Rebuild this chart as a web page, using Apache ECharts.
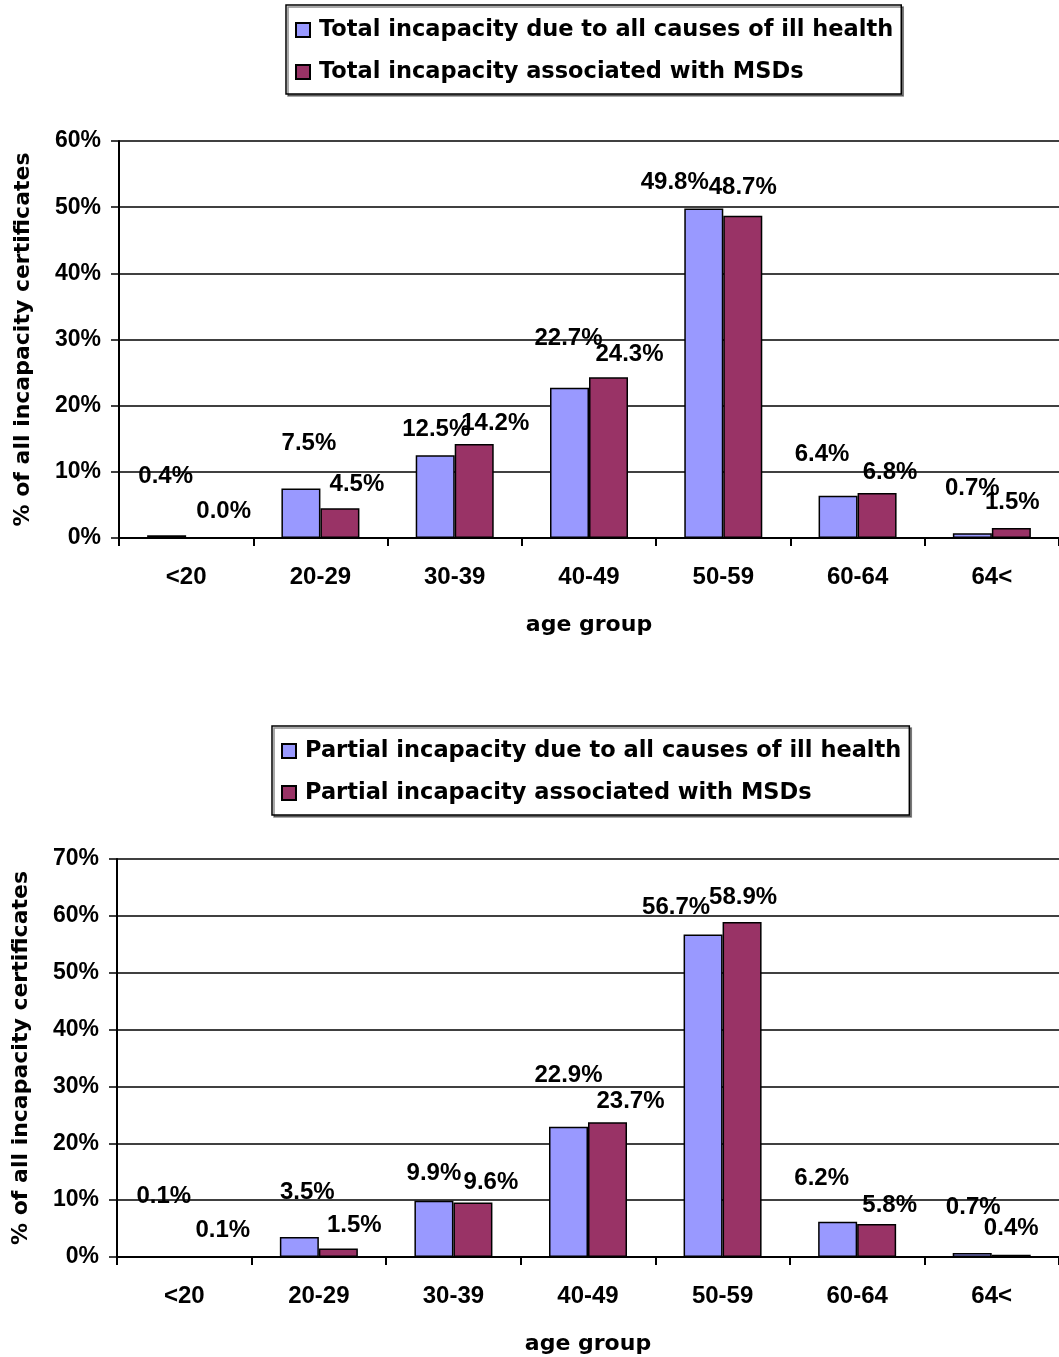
<!DOCTYPE html>
<html>
<head>
<meta charset="utf-8">
<script src="https://cdn.jsdelivr.net/npm/echarts@6/dist/echarts.min.js"></script>
<style>
html,body{margin:0;padding:0;background:#fff;}
#chart{width:1059px;height:1357px;}
</style>
</head>
<body>
<div id="chart"></div>
<script>
// ---- data ----
const categories = ['<20', '20-29', '30-39', '40-49', '50-59', '60-64', '64<'];
const totalAll = [0.4, 7.5, 12.5, 22.7, 49.8, 6.4, 0.7];
const totalMSD = [0.0, 4.5, 14.2, 24.3, 48.7, 6.8, 1.5];
const partialAll = [0.1, 3.5, 9.9, 22.9, 56.7, 6.2, 0.7];
const partialMSD = [0.1, 1.5, 9.6, 23.7, 58.9, 5.8, 0.4];
const topTicksMax = 60;
const bottomTicksMax = 70;

// ---- label placement tweaks (style only) ----
const totalAllOff = [[-1,-35],[8,-21],[1,-2],[-1,-25],[-29,-2],[-16,-17],[0,-21]];
const totalMSDOff = [[18,-2],[17,0],[21,3],[21,1],[0,-4],[13,3],[1,-2]];
const partialAllOff = [[-1,-36],[8,-21],[0,-3],[0,-27],[-27,-3],[-16,-19],[1,-22]];
const partialMSDOff = [[19,-2],[16,1],[18,4],[23,3],[1,-1],[13,5],[0,-2]];

const ARIAL = '"Liberation Sans", Arial, sans-serif';
const WIDE = '"DejaVu Sans", sans-serif';
const BLUE = '#9999FF';
const RED = '#993366';

function withOffsets(vals, offs) {
  return vals.map((v, i) => ({ value: v, label: { offset: offs[i] } }));
}

function barSeries(name, vals, offs, color, idx) {
  return {
    name: name,
    type: 'bar',
    xAxisIndex: idx,
    yAxisIndex: idx,
    barWidth: 39,
    barGap: '0%',
    itemStyle: { color: color, borderColor: '#000', borderWidth: 1.5 },
    label: {
      show: true,
      position: 'top',
      distance: 12,
      color: '#000',
      fontFamily: ARIAL,
      fontWeight: 'bold',
      fontSize: 24,
      formatter: p => p.value.toFixed(1) + '%'
    },
    data: withOffsets(vals, offs)
  };
}

function xAxis(idx) {
  return {
    type: 'category',
    gridIndex: idx,
    data: categories,
    name: 'age group',
    nameLocation: 'middle',
    nameGap: 76,
    nameTextStyle: { fontFamily: WIDE, fontWeight: 'bold', fontSize: 22, color: '#000' },
    axisLine: { lineStyle: { color: '#000', width: 2 } },
    axisTick: { show: true, length: 8, lineStyle: { color: '#000', width: 2 } },
    axisLabel: { color: '#000', fontFamily: ARIAL, fontWeight: 'bold', fontSize: 24, margin: 27 },
    splitLine: { show: false }
  };
}

function yAxis(idx, max) {
  return {
    type: 'value',
    gridIndex: idx,
    min: 0,
    max: max,
    interval: 10,
    name: '% of all incapacity certificates',
    nameLocation: 'middle',
    nameGap: 85,
    nameTextStyle: { fontFamily: WIDE, fontWeight: 'bold', fontSize: 22, color: '#000' },
    axisLine: { show: true, lineStyle: { color: '#000', width: 2 } },
    axisTick: { show: true, length: 8, lineStyle: { color: '#000', width: 1.5 } },
    axisLabel: { color: '#000', fontFamily: ARIAL, fontWeight: 'bold', fontSize: 23, margin: 18, formatter: '{value}%' },
    splitLine: { show: true, lineStyle: { color: '#000', width: 1.5 } }
  };
}

function legend(names, left, top) {
  return {
    data: names,
    orient: 'vertical',
    left: left,
    top: top,
    itemWidth: 14,
    itemHeight: 14,
    itemGap: 16,
    padding: [12, 8, 9, 9],
    borderColor: '#000',
    borderWidth: 1.5,
    backgroundColor: '#fff',
    shadowColor: 'rgba(0,0,0,0.45)',
    shadowOffsetX: 2,
    shadowOffsetY: 2,
    shadowBlur: 0,
    icon: 'rect',
    selectedMode: false,
    textStyle: { fontFamily: WIDE, fontWeight: 'bold', fontSize: 22.5, color: '#000', lineHeight: 26, padding: [0, 0, 0, 4] }
  };
}

const chart = echarts.init(document.getElementById('chart'), null, { renderer: 'canvas' });
chart.setOption({
  animation: false,
  backgroundColor: '#fff',
  legend: [
    legend(['Total incapacity due to all causes of ill health', 'Total incapacity associated with MSDs'], 286, 5),
    legend(['Partial incapacity due to all causes of ill health', 'Partial incapacity associated with MSDs'], 272, 726)
  ],
  grid: [
    { left: 119, top: 141, width: 945, height: 397 },
    { left: 117, top: 859, width: 945, height: 398 }
  ],
  xAxis: [xAxis(0), xAxis(1)],
  yAxis: [yAxis(0, topTicksMax), yAxis(1, bottomTicksMax)],
  series: [
    barSeries('Total incapacity due to all causes of ill health', totalAll, totalAllOff, BLUE, 0),
    barSeries('Total incapacity associated with MSDs', totalMSD, totalMSDOff, RED, 0),
    barSeries('Partial incapacity due to all causes of ill health', partialAll, partialAllOff, BLUE, 1),
    barSeries('Partial incapacity associated with MSDs', partialMSD, partialMSDOff, RED, 1)
  ]
});
</script>
</body>
</html>
